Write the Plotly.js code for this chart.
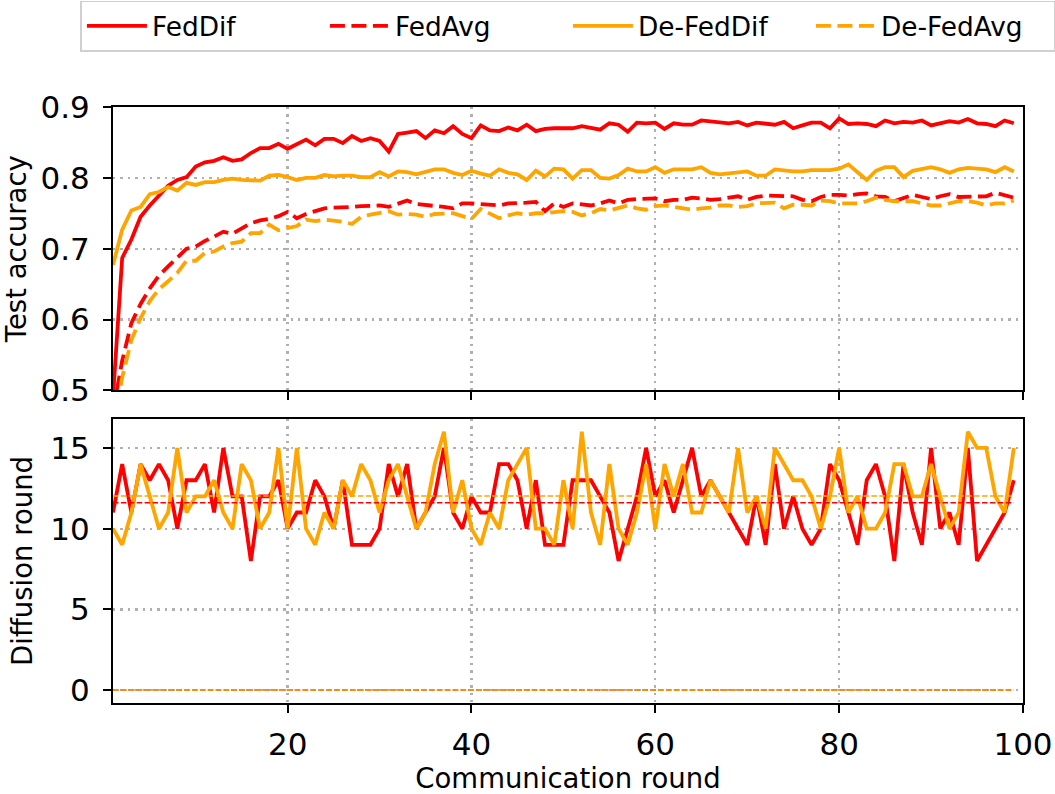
<!DOCTYPE html>
<html>
<head>
<meta charset="utf-8">
<script src="https://cdn.plot.ly/plotly-3.0.1.min.js"></script>
<style>
html,body{margin:0;padding:0;background:#ffffff;}
#chart{width:1055px;height:794px;}
</style>
</head>
<body>
<div id="chart"></div>
<script>
// ---------- data ----------
const rounds = [];
for (let r = 1; r <= 99; r++) rounds.push(r);

const xTickVals = [20, 40, 60, 80, 100];
const accTickVals = [0.5, 0.6, 0.7, 0.8, 0.9];
const diffTickVals = [0, 5, 10, 15];

const seriesNames = ['FedDif', 'FedAvg', 'De-FedDif', 'De-FedAvg'];

const fedDifAcc = [
  0.49, 0.687, 0.713, 0.745, 0.761, 0.776, 0.789, 0.797, 0.801, 0.816,
  0.822, 0.824, 0.829, 0.824, 0.826, 0.835, 0.842, 0.842, 0.848, 0.841,
  0.847, 0.854, 0.846, 0.855, 0.855, 0.849, 0.859, 0.852, 0.856, 0.852,
  0.837, 0.862, 0.864, 0.866, 0.856, 0.867, 0.863, 0.873, 0.862, 0.856,
  0.874, 0.867, 0.866, 0.871, 0.867, 0.875, 0.866, 0.869, 0.870, 0.870,
  0.870, 0.873, 0.870, 0.868, 0.877, 0.875, 0.865, 0.878, 0.877, 0.878,
  0.869, 0.877, 0.875, 0.875, 0.881, 0.880, 0.879, 0.877, 0.879, 0.874,
  0.878, 0.877, 0.875, 0.879, 0.870, 0.874, 0.878, 0.878, 0.870, 0.884,
  0.876, 0.877, 0.876, 0.873, 0.881, 0.877, 0.879, 0.878, 0.881, 0.874,
  0.877, 0.880, 0.878, 0.883, 0.877, 0.876, 0.873, 0.881, 0.877
];

const fedAvgAcc = [
  0.47, 0.542, 0.595, 0.622, 0.644, 0.662, 0.675, 0.687, 0.700, 0.703,
  0.711, 0.717, 0.724, 0.721, 0.729, 0.736, 0.740, 0.742, 0.746, 0.752,
  0.743, 0.749, 0.753, 0.757, 0.758, 0.758, 0.759, 0.760, 0.761, 0.761,
  0.759, 0.764, 0.768, 0.763, 0.762, 0.761, 0.759, 0.757, 0.764, 0.764,
  0.763, 0.762, 0.761, 0.764, 0.764, 0.765, 0.766, 0.753, 0.764, 0.759,
  0.764, 0.762, 0.761, 0.764, 0.768, 0.764, 0.769, 0.770, 0.770, 0.771,
  0.767, 0.769, 0.769, 0.772, 0.771, 0.769, 0.770, 0.772, 0.774, 0.769,
  0.773, 0.775, 0.775, 0.774, 0.774, 0.769, 0.767, 0.773, 0.776, 0.776,
  0.775, 0.777, 0.778, 0.774, 0.773, 0.767, 0.772, 0.776, 0.773, 0.770,
  0.774, 0.777, 0.773, 0.773, 0.773, 0.774, 0.779, 0.775, 0.772
];

const deFedDifAcc = [
  0.677, 0.727, 0.754, 0.759, 0.777, 0.780, 0.787, 0.782, 0.793, 0.790,
  0.794, 0.794, 0.797, 0.799, 0.797, 0.797, 0.796, 0.803, 0.804, 0.801,
  0.797, 0.800, 0.800, 0.804, 0.802, 0.803, 0.803, 0.801, 0.801, 0.808,
  0.802, 0.809, 0.808, 0.805, 0.809, 0.812, 0.812, 0.807, 0.804, 0.810,
  0.806, 0.803, 0.812, 0.807, 0.805, 0.797, 0.810, 0.802, 0.813, 0.812,
  0.799, 0.811, 0.811, 0.800, 0.799, 0.804, 0.813, 0.809, 0.809, 0.815,
  0.807, 0.812, 0.812, 0.812, 0.815, 0.807, 0.805, 0.806, 0.807, 0.809,
  0.803, 0.803, 0.812, 0.810, 0.809, 0.809, 0.811, 0.811, 0.811, 0.813,
  0.819, 0.808, 0.797, 0.810, 0.815, 0.815, 0.801, 0.810, 0.813, 0.815,
  0.812, 0.807, 0.812, 0.814, 0.813, 0.812, 0.808, 0.815, 0.809
];

const deFedAvgAcc = [
  0.447, 0.518, 0.571, 0.602, 0.626, 0.643, 0.654, 0.666, 0.683, 0.683,
  0.694, 0.696, 0.703, 0.708, 0.710, 0.722, 0.722, 0.734, 0.726, 0.729,
  0.732, 0.741, 0.739, 0.741, 0.740, 0.738, 0.735, 0.745, 0.748, 0.750,
  0.753, 0.748, 0.749, 0.748, 0.745, 0.749, 0.749, 0.750, 0.746, 0.742,
  0.756, 0.750, 0.743, 0.747, 0.750, 0.748, 0.750, 0.750, 0.752, 0.753,
  0.752, 0.747, 0.750, 0.756, 0.754, 0.757, 0.761, 0.757, 0.755, 0.760,
  0.761, 0.759, 0.757, 0.755, 0.757, 0.758, 0.761, 0.761, 0.759, 0.760,
  0.764, 0.764, 0.765, 0.757, 0.762, 0.762, 0.761, 0.768, 0.767, 0.764,
  0.764, 0.764, 0.767, 0.772, 0.769, 0.767, 0.767, 0.767, 0.764, 0.761,
  0.761, 0.764, 0.767, 0.767, 0.765, 0.761, 0.764, 0.764, 0.768
];

const fedDifDiffusion = [
  11, 14, 11, 14, 13, 14, 13, 10, 13, 13, 14, 11, 15, 12, 12, 8, 12, 12, 13, 10,
  11, 11, 13, 12, 10, 13, 9, 9, 9, 10, 14, 12, 14, 10, 11, 12, 15, 11, 10, 12,
  11, 11, 14, 14, 13, 10, 13, 9, 9, 9, 13, 13, 13, 12, 11, 8, 10, 12, 15, 12,
  13, 11, 13, 15, 12, 13, 12, 11, 10, 9, 12, 9, 14, 10, 12, 10, 9, 10, 14, 13,
  11, 9, 13, 14, 12, 8, 14, 11, 9, 15, 10, 11, 9, 15, 8, 9, 10, 11, 13
];

const deFedDifDiffusion = [
  10, 9, 11, 14, 12, 10, 11, 15, 11, 12, 12, 13, 11, 10, 14, 13, 10, 11, 15, 10,
  15, 10, 9, 11, 10, 13, 12, 14, 13, 11, 13, 14, 12, 10, 11, 14, 16, 11, 13, 10,
  9, 11, 10, 13, 14, 15, 10, 10, 9, 13, 10, 16, 11, 9, 14, 10, 9, 11, 14, 10,
  14, 12, 14, 11, 11, 13, 12, 11, 15, 11, 12, 10, 15, 14, 13, 13, 12, 10, 12, 15,
  11, 12, 10, 10, 11, 14, 14, 12, 12, 14, 12, 10, 11, 16, 15, 15, 12, 11, 15
];

// FedAvg / De-FedAvg do no diffusion: their diffusion rounds are zero
const fedAvgDiffusionMean = 0;
const deFedAvgDiffusionMean = 0;

// ---------- styling ----------
const RED = '#ff0000';
const ORANGE = '#ffa500';
const FONT = 'DejaVu Sans, Liberation Sans, sans-serif';
const LW = 3.8;
const DASH = '15px,6.5px';
const THIN = 1.5;
const THIN_DASH = '5.5px,2.4px';

function mean(a) { return a.reduce((s, v) => s + v, 0) / a.length; }
const fedDifMean = mean(fedDifDiffusion);
const deFedDifMean = mean(deFedDifDiffusion);
const lineSpan = [rounds[0], rounds[rounds.length - 1]];

const traces = [
  {x: rounds, y: fedDifAcc, name: seriesNames[0], type: 'scatter', mode: 'lines',
   line: {color: RED, width: LW}, xaxis: 'x', yaxis: 'y'},
  {x: rounds, y: fedAvgAcc, name: seriesNames[1], type: 'scatter', mode: 'lines',
   line: {color: RED, width: LW, dash: DASH}, xaxis: 'x', yaxis: 'y'},
  {x: rounds, y: deFedDifAcc, name: seriesNames[2], type: 'scatter', mode: 'lines',
   line: {color: ORANGE, width: LW}, xaxis: 'x', yaxis: 'y'},
  {x: rounds, y: deFedAvgAcc, name: seriesNames[3], type: 'scatter', mode: 'lines',
   line: {color: ORANGE, width: LW, dash: DASH}, xaxis: 'x', yaxis: 'y'},

  {x: rounds, y: fedDifDiffusion, name: seriesNames[0], showlegend: false, type: 'scatter', mode: 'lines',
   line: {color: RED, width: LW}, xaxis: 'x2', yaxis: 'y2'},
  {x: rounds, y: deFedDifDiffusion, name: seriesNames[2], showlegend: false, type: 'scatter', mode: 'lines',
   line: {color: ORANGE, width: LW}, xaxis: 'x2', yaxis: 'y2'},
  {x: lineSpan, y: [fedDifMean, fedDifMean], name: seriesNames[0] + ' mean', showlegend: false,
   type: 'scatter', mode: 'lines', line: {color: RED, width: THIN, dash: THIN_DASH}, xaxis: 'x2', yaxis: 'y2'},
  {x: lineSpan, y: [fedAvgDiffusionMean, fedAvgDiffusionMean], name: seriesNames[1] + ' mean', showlegend: false,
   type: 'scatter', mode: 'lines', line: {color: RED, width: THIN, dash: THIN_DASH}, xaxis: 'x2', yaxis: 'y2'},
  {x: lineSpan, y: [deFedDifMean, deFedDifMean], name: seriesNames[2] + ' mean', showlegend: false,
   type: 'scatter', mode: 'lines', line: {color: ORANGE, width: THIN, dash: THIN_DASH}, xaxis: 'x2', yaxis: 'y2'},
  {x: lineSpan, y: [deFedAvgDiffusionMean, deFedAvgDiffusionMean], name: seriesNames[3] + ' mean', showlegend: false,
   type: 'scatter', mode: 'lines', line: {color: ORANGE, width: THIN, dash: THIN_DASH}, xaxis: 'x2', yaxis: 'y2'}
];

const tickFont = {family: FONT, size: 31, color: '#000000'};
const titleFont = {family: FONT, size: 27.5, color: '#000000'};

const axisCommon = {
  showline: true, linecolor: '#000000', linewidth: 2, mirror: true,
  ticks: 'outside', ticklen: 8, tickwidth: 2, tickcolor: '#000000',
  showgrid: true, gridcolor: '#b0b0b0', gridwidth: 2.3, griddash: '2.4px,5px',
  zeroline: false, tickfont: tickFont
};

const layout = {
  width: 1055, height: 794,
  margin: {l: 112.6, r: 32, t: 107.3, b: 90.7, pad: 0, autoexpand: false},
  paper_bgcolor: '#ffffff', plot_bgcolor: '#ffffff',
  font: {family: FONT, color: '#000000'},
  showlegend: true,
  legend: {
    orientation: 'h', x: -0.0358, xanchor: 'left', y: 1.1784, yanchor: 'top',
    bordercolor: '#d0d0d0', borderwidth: 1.5, bgcolor: '#ffffff',
    font: {family: FONT, size: 26.4, color: '#000000'},
    itemwidth: 60, entrywidth: 168, entrywidthmode: 'pixels'
  },
  xaxis: Object.assign({}, axisCommon, {
    domain: [0, 1], anchor: 'y', range: [1, 100], tickvals: xTickVals,
    showticklabels: false, matches: 'x2'
  }),
  yaxis: Object.assign({}, axisCommon, {
    domain: [0.5245, 1], anchor: 'x', range: [0.5, 0.9], tickvals: accTickVals,
    tickformat: '.1f', ticklabelstandoff: 7,
    title: {text: 'Test accuracy', font: titleFont, standoff: 10}
  }),
  xaxis2: Object.assign({}, axisCommon, {
    domain: [0, 1], anchor: 'y2', range: [1, 100], tickvals: xTickVals,
    ticklabelstandoff: 5,
    title: {text: 'Communication round', font: titleFont, standoff: 8}
  }),
  yaxis2: Object.assign({}, axisCommon, {
    domain: [0, 0.4767], anchor: 'x2', range: [-0.8, 16.8], tickvals: diffTickVals,
    ticklabelstandoff: 7,
    title: {text: 'Diffusion round', font: titleFont, standoff: 10}
  })
};

Plotly.newPlot('chart', traces, layout, {staticPlot: true, displayModeBar: false});
</script>
</body>
</html>
